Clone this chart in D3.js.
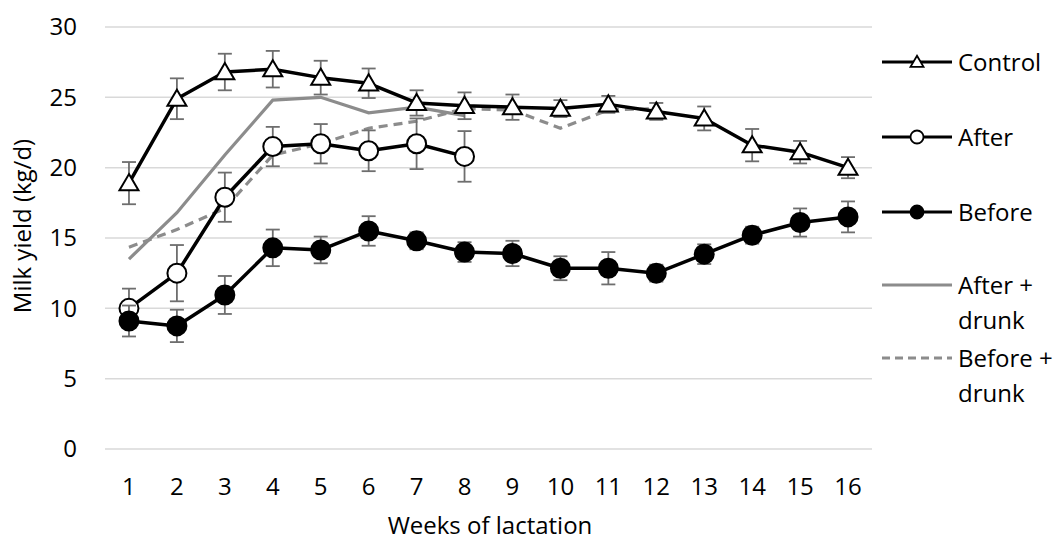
<!DOCTYPE html>
<html><head><meta charset="utf-8">
<script src="https://cdn.jsdelivr.net/npm/d3@7"></script>
<style>body{margin:0;background:#fff}svg text{font-family:"Open Sans",sans-serif;fill:#000}</style>
</head><body><svg id="c" width="1062" height="541"></svg>
<script>
const weeks = [1,2,3,4,5,6,7,8,9,10,11,12,13,14,15,16];
const yTicks = [0,5,10,15,20,25,30];
const control    = [18.9,24.9,26.8,27.0,26.4,26.0,24.6,24.4,24.3,24.2,24.5,24.0,23.5,21.6,21.1,20.0];
const controlErr = [1.5,1.45,1.3,1.3,1.2,1.05,0.9,0.95,0.9,0.6,0.6,0.6,0.85,1.15,0.8,0.75];
const after      = [10.0,12.5,17.9,21.5,21.7,21.2,21.7,20.8];
const afterErr   = [1.4,2.0,1.75,1.4,1.4,1.45,1.8,1.8];
const before     = [9.1,8.75,10.95,14.3,14.15,15.5,14.8,14.0,13.9,12.85,12.85,12.5,13.85,15.2,16.1,16.5];
const beforeErr  = [1.1,1.15,1.35,1.3,0.95,1.05,0.6,0.7,0.9,0.85,1.15,0.6,0.7,0.6,1.0,1.1];
const afterDrunk = [13.5,16.8,20.9,24.8,25.0,23.9,24.3,23.7];
const beforeDrunk= [14.35,15.6,17.1,20.9,21.7,22.8,23.3,24.2,24.1,22.8,24.1,24.2];
const legendLabels = [["Control"],["After"],["Before"],["After +","drunk"],["Before +","drunk"]];

const FS = 24;
const svg = d3.select("#c");
const x = d3.scaleBand().domain(weeks).range([105,872]);
const cx = w => x(w) + x.bandwidth()/2;
const y = d3.scaleLinear().domain([0,30]).range([449,27]);

// gridlines
svg.append("g").selectAll("line").data(yTicks).join("line")
  .attr("x1",105).attr("x2",872).attr("y1",d=>y(d)).attr("y2",d=>y(d))
  .attr("stroke","#d9d9d9").attr("stroke-width",1.5);

// y axis labels
const yAxis = d3.axisLeft(y).tickValues(yTicks).tickSize(0).tickPadding(0);
const yg = svg.append("g").attr("transform","translate(77,0)").call(yAxis);
yg.select(".domain").remove();
yg.selectAll("text").attr("font-size",FS).attr("font-family","Open Sans").attr("fill","#000");

// x axis labels
const xAxis = d3.axisBottom(x).tickSize(0).tickPadding(0);
const xg = svg.append("g").attr("transform","translate(0,478)").call(xAxis);
xg.select(".domain").remove();
xg.selectAll("text").attr("font-size",FS).attr("font-family","Open Sans").attr("fill","#000").attr("dy","0.7em");

svg.append("text").attr("x",490).attr("y",534).attr("text-anchor","middle").attr("font-size",FS).text("Weeks of lactation");
svg.append("text").attr("transform","translate(31,226) rotate(-90)").attr("text-anchor","middle").attr("font-size",FS).text("Milk yield (kg/d)");

const line = d3.line().x((d,i)=>cx(weeks[i])).y(d=>y(d));

// grey lines
svg.append("path").datum(afterDrunk).attr("d",line).attr("fill","none").attr("stroke","#8c8c8c").attr("stroke-width",3.2);
svg.append("path").datum(beforeDrunk).attr("d",line).attr("fill","none").attr("stroke","#8c8c8c").attr("stroke-width",3.2).attr("stroke-dasharray","9,6");

function series(vals, errs, marker){
  const g = svg.append("g");
  g.append("path").datum(vals).attr("d",line).attr("fill","none").attr("stroke","#000").attr("stroke-width",3.5).attr("stroke-linejoin","round");
  const eb = g.append("g").attr("stroke","#6e6e6e").attr("stroke-width",1.8);
  vals.forEach((v,i)=>{
    const X = cx(weeks[i]), t = y(v+errs[i]), b = y(v-errs[i]);
    eb.append("line").attr("x1",X).attr("x2",X).attr("y1",t).attr("y2",b);
    eb.append("line").attr("x1",X-7).attr("x2",X+7).attr("y1",t).attr("y2",t);
    eb.append("line").attr("x1",X-7).attr("x2",X+7).attr("y1",b).attr("y2",b);
  });
  g.append("g").selectAll("path").data(vals).join("path")
    .attr("transform",(d,i)=>`translate(${cx(weeks[i])},${y(d)})`)
    .attr("d",marker.d).attr("fill",marker.fill).attr("stroke","#000").attr("stroke-width",2);
}
const tri = s => `M0,${-s*0.95}L${s},${s*0.75}L${-s},${s*0.75}Z`;
const circ = r => d3.arc()({innerRadius:0,outerRadius:r,startAngle:0,endAngle:2*Math.PI});
series(control, controlErr, {d:tri(9.5), fill:"#fff"});
series(after, afterErr, {d:circ(9.5), fill:"#fff"});
series(before, beforeErr, {d:circ(9.5), fill:"#000"});

// legend
const lg = svg.append("g");
const ly = [62,137,212,285,358];
const styles = [
  {stroke:"#000",dash:null,marker:tri(6.5),fill:"#fff"},
  {stroke:"#000",dash:null,marker:circ(6.5),fill:"#fff"},
  {stroke:"#000",dash:null,marker:circ(6.5),fill:"#000"},
  {stroke:"#8c8c8c",dash:null,marker:null},
  {stroke:"#8c8c8c",dash:"8,5",marker:null}
];
legendLabels.forEach((lab,i)=>{
  const s = styles[i];
  lg.append("line").attr("x1",882).attr("x2",952).attr("y1",ly[i]).attr("y2",ly[i])
    .attr("stroke",s.stroke).attr("stroke-width",3.2).attr("stroke-dasharray",s.dash);
  if(s.marker) lg.append("path").attr("transform",`translate(917,${ly[i]})`).attr("d",s.marker).attr("fill",s.fill).attr("stroke","#000").attr("stroke-width",1.8);
  lab.forEach((t,j)=>{
    lg.append("text").attr("x",958).attr("y",ly[i]+j*35).attr("dy","0.36em").attr("font-size",FS).text(t);
  });
});
</script></body></html>
